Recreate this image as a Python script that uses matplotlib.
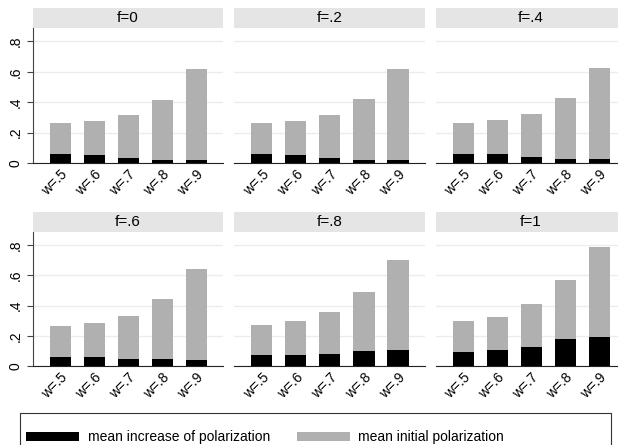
import matplotlib.pyplot as plt
from matplotlib.patches import Rectangle

plt.rcParams['font.family'] = ['Liberation Sans', 'DejaVu Sans']

CATEGORIES = ["w=.5", "w=.6", "w=.7", "w=.8", "w=.9"]
PANELS = ["f=0", "f=.2", "f=.4", "f=.6", "f=.8", "f=1"]

# mean increase of polarization (black, bottom of stack)
INCREASE = {
    "f=0":  [0.062, 0.054, 0.036, 0.023, 0.019],
    "f=.2": [0.062, 0.054, 0.036, 0.023, 0.019],
    "f=.4": [0.062, 0.056, 0.041, 0.027, 0.025],
    "f=.6": [0.062, 0.058, 0.049, 0.045, 0.042],
    "f=.8": [0.071, 0.073, 0.078, 0.097, 0.106],
    "f=1":  [0.095, 0.106, 0.128, 0.178, 0.191],
}
# mean initial polarization (gray, stacked on top)
INITIAL = {
    "f=0":  [0.203, 0.222, 0.282, 0.394, 0.597],
    "f=.2": [0.203, 0.222, 0.282, 0.396, 0.597],
    "f=.4": [0.203, 0.225, 0.281, 0.398, 0.600],
    "f=.6": [0.205, 0.224, 0.283, 0.396, 0.601],
    "f=.8": [0.202, 0.222, 0.283, 0.395, 0.596],
    "f=1":  [0.202, 0.222, 0.283, 0.395, 0.598],
}

LEGEND = ["mean increase of polarization", "mean initial polarization"]

W, H = 618, 445
GRAY = "#b0b0b0"
STRIP = "#e5e5e5"


def px_axes(fig, x0, y0, x1, y1):
    # pixel box (top-left origin) -> figure fraction
    return fig.add_axes([x0 / W, 1 - y1 / H, (x1 - x0) / W, (y1 - y0) / H])


fig = plt.figure(figsize=(W / 100, H / 100), dpi=100)

cols = [(33, 223), (234, 425), (436, 626)]
rows = [(28, 163), (232, 366)]

for i, name in enumerate(PANELS):
    r, c = divmod(i, 3)
    x0, x1 = cols[c]
    y0, y1 = rows[r]
    ax = px_axes(fig, x0, y0, x1, y1)
    x = range(len(CATEGORIES))
    inc = INCREASE[name]
    ini = INITIAL[name]
    ax.bar(x, inc, width=0.62, color="black", zorder=3)
    ax.bar(x, ini, bottom=inc, width=0.62, color=GRAY, zorder=3)
    ax.set_xlim(-0.81, 4.79)
    ax.set_ylim(0, 0.888)
    ax.set_yticks([0, 0.2, 0.4, 0.6, 0.8])
    ax.set_yticklabels(["0", ".2", ".4", ".6", ".8"], rotation=90, va="center",
                       fontsize=10)
    ax.grid(axis="y", color="#ececec", linewidth=1, zorder=0)
    ax.set_xticks(list(x))
    ax.set_xticklabels(CATEGORIES, rotation=45, ha="right", va="top",
                       rotation_mode="anchor", fontsize=10)
    ax.tick_params(axis="x", length=0, pad=3)
    for s in ["top", "right"]:
        ax.spines[s].set_visible(False)
    ax.spines["bottom"].set_color("#222222")
    if c == 0:
        ax.spines["left"].set_color("#444444")
        ax.tick_params(axis="y", length=4.3, color="#444444", pad=3)
    else:
        ax.spines["left"].set_visible(False)
        ax.tick_params(axis="y", length=0, labelleft=False)
    sh = 20 / (y1 - y0)
    ax.add_patch(Rectangle((0, 1), 1, sh, transform=ax.transAxes,
                           facecolor=STRIP, edgecolor="none", clip_on=False))
    ax.text(0.5, 1 + sh / 2, name, transform=ax.transAxes, ha="center",
            va="center", fontsize=11)

# legend box
fig.patches.append(Rectangle((20 / W, 1 - 452 / H), 591 / W, 39 / H,
                             transform=fig.transFigure, facecolor="white",
                             edgecolor="#333333", linewidth=0.8))
fig.patches.append(Rectangle((26 / W, 1 - 441 / H), 53 / W, 9 / H,
                             transform=fig.transFigure, facecolor="black"))
fig.patches.append(Rectangle((297 / W, 1 - 441 / H), 53 / W, 9 / H,
                             transform=fig.transFigure, facecolor=GRAY))
fig.text(88 / W, 1 - 436.5 / H, LEGEND[0], ha="left", va="center", fontsize=10)
fig.text(358 / W, 1 - 436.5 / H, LEGEND[1], ha="left", va="center", fontsize=10)

fig.savefig("out.png", dpi=100)
